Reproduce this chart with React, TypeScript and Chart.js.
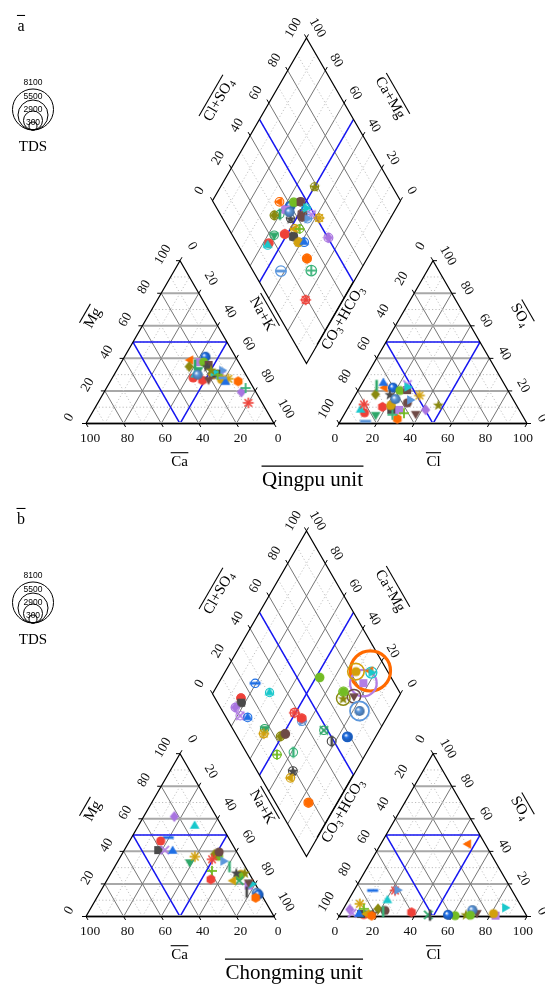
import React, { useEffect, useRef } from "react";
import { Chart, registerables } from "chart.js";

Chart.register(...registerables);

/* ================= DATA (meq %) ================= */
// ---- Qingpu unit (panel a) ----
const qpCa = [25, 16, 27.6, 20.7, 18.6, 16.8, 18, 17.4, 13.1, 11.4, 10.5, 17.7, 24.8, 23.6, 15.4, 29, 27, 14.4, 13.1, 7.7, 6.1, 4.2, 14, 7.3, 15, 21.3, 16.4, 24, 17, 25.6];
const qpMg = [39, 41, 35, 37.7, 37.7, 36, 35, 30, 30, 32.6, 27.5, 30, 26.5, 33, 30.6, 28, 30, 27.1, 25.4, 19.3, 25.9, 21.8, 28, 12.7, 30, 27, 31.6, 36, 33, 30];
const qpCl = [13.3, 17.7, 10.5, 27.7, 22.3, 26, 18.1, 30, 24.4, 30.5, 34.2, 22, 18, 16.8, 23.6, 10.3, 7.3, 22, 11.2, 41.9, 29.6, 25.7, 13.4, 7.4, 31.4, 37.8, 25.1, 8.3, 47.1, 22.5];
const qpSO4 = [22, 22, 17.9, 8.4, 20.3, 20.5, 17.9, 12.7, 24, 14.5, 17.2, 13, 10.2, 5.4, 8.4, 6.6, 8.4, 11, 24.8, 8.4, 2.9, 5.4, 1.4, 11.7, 6.3, 6, 22.4, 23.4, 11.5, 15];
const qpTDS = [450, 450, 400, 450, 450, 450, 300, 450, 300, 450, 300, 400, 450, 400, 450, 400, 350, 450, 450, 500, 500, 900, 900, 300, 300, 450, 400, 350, 300, 450];
const qpMarker = ["triLeft", "sphere", "diamond", "square", "circle", "square", "star5", "circle", "x", "triRight", "asterisk", "triLeft", "hexagon", "triDown", "square", "circle", "triUp", "circle", "triUp", "diamond", "hexagon", "plus", "dash", "asterisk", "plus", "triDown", "triRight", "vline", "star5", "sphere"];
const qpColor = ["orange", "blue", "olive", "lavender", "yellowgreen", "brown", "dark", "brown", "lavender", "lightblue", "gold", "gold", "red", "green", "dark", "red", "cyan", "gold", "blue", "purple", "orange", "teal", "lightblue", "red", "yellowgreen", "brown", "cyan", "green", "olive", "lightblue"];

// ---- Chongming unit (panel b) ----
const cmCa = [2.9, 4, 4.6, 2, 3, 2.1, 1.9, 11, 6.2, 1.5, 32, 14.4, 37.1, 41.2, 22.3, 37.7, 33.8, 28.1, 23.7, 12.5, 9.4, 15.4, 10, 7.5, 7, 19, 8.4, 6.6, 10.7, 4, 22.2];
const cmMg = [20.1, 19, 25.9, 20, 21, 26.9, 14.6, 37, 24.8, 13.5, 48.5, 55.6, 46.4, 40.8, 61.4, 40.8, 40.2, 33.4, 36.8, 38.2, 39.6, 35.1, 34, 22, 15, 28, 30.6, 26.9, 22, 11.5, 22.8];
const cmCl = [46.5, 83, 81.3, 85.6, 72.2, 66.9, 69, 61.5, 69.5, 57.5, 9.9, 20.8, 12.6, 11, 3.6, 6, 9.9, 15, 7.2, 18.4, 22.6, 21.8, 22.9, 47, 48, 10.9, 22, 17, 14, 17.1, 37.3];
const cmSO4 = [44.5, 0.5, 1.8, 5.4, 2.3, 1.2, 3.9, 0.5, 0.8, 1, 16, 9.9, 1.2, 1.5, 4.3, 2, 1.5, 2, 7.8, 4.7, 3.7, 16, 16.2, 1, 0.8, 4.7, 3, 2, 1.6, 0.5, 2.6];
const cmTDS = [7900, 4700, 2300, 1000, 1600, 1600, 2900, 300, 600, 700, 400, 350, 400, 400, 350, 400, 400, 400, 450, 400, 450, 500, 450, 400, 500, 400, 400, 450, 400, 500, 450];
const cmMarker = ["triLeft", "square", "circle", "triRight", "triDown", "star5", "sphere", "circle", "circle", "sphere", "dash", "triUp", "circle", "square", "diamond", "x", "triUp", "triDown", "asterisk", "diamond", "circle", "asterisk", "triRight", "x", "vline", "plus", "vline", "star5", "triLeft", "hexagon", "hexagon"];
const cmColor = ["orange", "lavender", "gold", "cyan", "brown", "olive", "lightblue", "yellowgreen", "yellowgreen", "blue", "blue", "cyan", "red", "dark", "purple", "lavender", "blue", "green", "gold", "olive", "brown", "red", "lightblue", "green", "dark", "yellowgreen", "teal", "dark", "gold", "orange", "red"];

// ---- axis ticks / legend ----
const TICK_VALUES = [0, 20, 40, 60, 80, 100];
const GRID_STEPS = [10, 20, 30, 40, 50, 60, 70, 80, 90];
const TDS_LEGEND = [8100, 5500, 2900, 300];

/* ================= STYLE / LAYOUT ================= */
const SERIF = '"Liberation Serif", "Times New Roman", Times, serif';
const SANS = '"Liberation Sans", Arial, Helvetica, sans-serif';
const PALETTE: Record<string, string> = {
  orange: "#FF6A00",
  red: "#EF4038",
  blue: "#1F6FE5",
  lightblue: "#5C97DC",
  green: "#2EA769",
  teal: "#3BB37A",
  lavender: "#B27EE5",
  purple: "#A874E0",
  olive: "#8A890F",
  brown: "#6E4A46",
  dark: "#4A4A4A",
  cyan: "#19C8CC",
  gold: "#D2A00C",
  yellowgreen: "#73BC24",
};

const W = 545;
const PX_PER_UNIT = 1.88;
const ORIGIN_PX = 86;
const BASE_PX = 423.5;
const H = 86.6025;
const GAP = 34.57;
const OX = 100 + GAP;
const D0X = 100 + GAP / 2;
const D0Y = 31.9;

type P = { x: number; y: number };
const catXY = (ca: number, mg: number): P => ({ x: 100 - ca - mg + mg / 2, y: (mg * H) / 100 });
const anXY = (cl: number, so4: number): P => ({ x: OX + cl + so4 / 2, y: (so4 * H) / 100 });
// a = Cl+SO4 (%), b = Ca+Mg (%)
const diaXY = (a: number, b: number): P => ({ x: D0X + 0.5 * (a - b), y: D0Y + (H / 100) * (a + b) });

const tdsRadius = (t: number) => 3.37 + 0.002115 * t;
const tdsLineWidth = (t: number) => 1 + t / 3600;

function darken(hex: string, f: number) {
  const n = parseInt(hex.slice(1), 16);
  const r = Math.round(((n >> 16) & 255) * f);
  const g = Math.round(((n >> 8) & 255) * f);
  const b = Math.round((n & 255) * f);
  return `rgb(${r},${g},${b})`;
}

function makeMarker(shape: string, color: string): HTMLCanvasElement {
  const N = 16;
  const c = document.createElement("canvas");
  c.width = N;
  c.height = N;
  const g = c.getContext("2d") as CanvasRenderingContext2D;
  const cx = N / 2,
    cy = N / 2;
  g.fillStyle = color;
  g.strokeStyle = color;
  const regular = (n: number, r: number, start: number) => {
    g.beginPath();
    for (let i = 0; i < n; i++) {
      const a = start + (i * 2 * Math.PI) / n;
      const px = cx + r * Math.cos(a),
        py = cy + r * Math.sin(a);
      if (i === 0) g.moveTo(px, py);
      else g.lineTo(px, py);
    }
    g.closePath();
    g.fill();
  };
  const seg = (x1: number, y1: number, x2: number, y2: number) => {
    g.beginPath();
    g.moveTo(cx + x1, cy + y1);
    g.lineTo(cx + x2, cy + y2);
    g.stroke();
  };
  switch (shape) {
    case "circle":
      g.beginPath();
      g.arc(cx, cy, 4.6, 0, Math.PI * 2);
      g.fill();
      break;
    case "square":
      g.fillRect(cx - 4, cy - 4, 8, 8);
      break;
    case "triUp":
      regular(3, 5.6, -Math.PI / 2);
      break;
    case "triDown":
      regular(3, 5.6, Math.PI / 2);
      break;
    case "triLeft":
      regular(3, 5.6, Math.PI);
      break;
    case "triRight":
      regular(3, 5.6, 0);
      break;
    case "diamond":
      g.beginPath();
      g.moveTo(cx, cy - 5.4);
      g.lineTo(cx + 4.6, cy);
      g.lineTo(cx, cy + 5.4);
      g.lineTo(cx - 4.6, cy);
      g.closePath();
      g.fill();
      break;
    case "hexagon":
      regular(6, 5, -Math.PI / 2);
      break;
    case "star5": {
      g.beginPath();
      for (let i = 0; i < 10; i++) {
        const r = i % 2 ? 2.4 : 5.8;
        const a = -Math.PI / 2 + (i * Math.PI) / 5;
        const px = cx + r * Math.cos(a),
          py = cy + 0.6 + r * Math.sin(a);
        if (i === 0) g.moveTo(px, py);
        else g.lineTo(px, py);
      }
      g.closePath();
      g.fill();
      break;
    }
    case "sphere": {
      const grd = g.createRadialGradient(cx - 1.6, cy - 1.8, 0.3, cx, cy, 5.3);
      grd.addColorStop(0, "#ffffff");
      grd.addColorStop(0.35, color);
      grd.addColorStop(1, darken(color, 0.7));
      g.fillStyle = grd;
      g.beginPath();
      g.arc(cx, cy, 5.1, 0, Math.PI * 2);
      g.fill();
      break;
    }
    case "asterisk":
      g.lineWidth = 1.6;
      for (let k = 0; k < 4; k++) {
        const a = (k * Math.PI) / 4;
        seg(-5.3 * Math.cos(a), -5.3 * Math.sin(a), 5.3 * Math.cos(a), 5.3 * Math.sin(a));
      }
      break;
    case "x":
      g.lineWidth = 1.8;
      seg(-4.2, -4.2, 4.2, 4.2);
      seg(-4.2, 4.2, 4.2, -4.2);
      break;
    case "plus":
      g.lineWidth = 1.8;
      seg(-5, 0, 5, 0);
      seg(0, -5, 0, 5);
      break;
    case "dash":
      g.fillRect(cx - 5.5, cy - 1.4, 11, 2.8);
      break;
    case "vline":
      g.fillRect(cx - 1.3, cy - 5.5, 2.6, 11);
      break;
  }
  return c;
}

type Seg = [string, boolean?];
function drawRich(
  ctx: CanvasRenderingContext2D,
  segs: Seg[],
  x: number,
  y: number,
  rot: number,
  size: number,
  overline: boolean,
  family = SERIF,
  olOff = 0.62
) {
  ctx.save();
  ctx.translate(x, y);
  ctx.rotate((rot * Math.PI) / 180);
  ctx.textBaseline = "middle";
  ctx.textAlign = "left";
  ctx.fillStyle = "#000";
  const widths: number[] = [];
  let w = 0;
  for (const [t, sub] of segs) {
    ctx.font = `${sub ? size * 0.66 : size}px ${family}`;
    const mw = ctx.measureText(t).width;
    widths.push(mw);
    w += mw;
  }
  let cx = -w / 2;
  segs.forEach(([t, sub], i) => {
    ctx.font = `${sub ? size * 0.66 : size}px ${family}`;
    ctx.fillText(t, cx, sub ? size * 0.3 : 0);
    cx += widths[i];
  });
  if (overline) {
    ctx.beginPath();
    ctx.strokeStyle = "#000";
    ctx.lineWidth = 1.1;
    ctx.moveTo(-w / 2 - 0.5, -size * olOff);
    ctx.lineTo(w / 2 + 0.5, -size * olOff);
    ctx.stroke();
  }
  ctx.restore();
}

type AxisDef = { pt: (v: number) => P; off: [number, number]; rot: number; dir: [number, number] };
const AXES: AxisDef[] = [
  { pt: (v) => catXY(v, 0), off: [4, 15], rot: 0, dir: [0.5, 0.866] }, // Ca (bottom)
  { pt: (v) => catXY(100 - v, v), off: [-17, -6], rot: -60, dir: [-1, 0] }, // Mg (left)
  { pt: (v) => catXY(0, 100 - v), off: [12, -14.6], rot: 60, dir: [0.5, -0.866] }, // Na+K (right)
  { pt: (v) => anXY(v, 0), off: [-4, 15], rot: 0, dir: [-0.5, 0.866] }, // Cl (bottom)
  { pt: (v) => anXY(0, 100 - v), off: [-12.5, -14.5], rot: -60, dir: [-0.5, -0.866] }, // CO3+HCO3 (left)
  { pt: (v) => anXY(100 - v, v), off: [15, -5], rot: 60, dir: [1, 0] }, // SO4 (right)
  { pt: (v) => diaXY(v, 100), off: [-13, -10], rot: -60, dir: [-0.5, -0.866] }, // Cl+SO4
  { pt: (v) => diaXY(100, v), off: [11, -10], rot: 60, dir: [0.5, -0.866] }, // Ca+Mg
];

const AXIS_TITLES: { segs: Seg[]; x: number; y: number; rot: number }[] = [
  { segs: [["Mg"]], x: 93, y: 318, rot: -60 },
  { segs: [["Ca"]], x: 179.5, y: 462, rot: 0 },
  { segs: [["Na+K"]], x: 262, y: 314, rot: 60 },
  { segs: [["CO"], ["3", true], ["+HCO"], ["3", true]], x: 343, y: 318, rot: -60 },
  { segs: [["Cl"]], x: 433.5, y: 462, rot: 0 },
  { segs: [["SO"], ["4", true]], x: 520, y: 315, rot: 60 },
  { segs: [["Cl+SO"], ["4", true]], x: 219, y: 100, rot: -60 },
  { segs: [["Ca+Mg"]], x: 390, y: 98, rot: 60 },
];

type PanelProps = {
  height: number;
  letter: string;
  title: string;
  titleX: number;
  ca: number[];
  mg: number[];
  cl: number[];
  so4: number[];
  tds: number[];
  marker: string[];
  color: string[];
};

function makeFramePlugin(p: PanelProps) {
  return {
    id: "piperFrame",
    beforeDatasetsDraw(chart: any) {
      const ctx = chart.ctx as CanvasRenderingContext2D;
      const xs = chart.scales.x,
        ys = chart.scales.y;
      const toPx = (q: P): [number, number] => [xs.getPixelForValue(q.x), ys.getPixelForValue(q.y)];
      const line = (a: P, b: P, color: string, w: number, dash: number[] = []) => {
        const [x1, y1] = toPx(a),
          [x2, y2] = toPx(b);
        ctx.beginPath();
        ctx.setLineDash(dash);
        ctx.strokeStyle = color;
        ctx.lineWidth = w;
        ctx.moveTo(x1, y1);
        ctx.lineTo(x2, y2);
        ctx.stroke();
        ctx.setLineDash([]);
      };
      const poly = (pts: P[], color: string, w: number) => {
        ctx.beginPath();
        ctx.strokeStyle = color;
        ctx.lineWidth = w;
        ctx.lineJoin = "miter";
        pts.forEach((q, i) => {
          const [x, y] = toPx(q);
          if (i === 0) ctx.moveTo(x, y);
          else ctx.lineTo(x, y);
        });
        ctx.closePath();
        ctx.stroke();
      };

      ctx.save();
      ctx.fillStyle = "#fff";
      ctx.fillRect(0, 0, chart.width, chart.height);

      // grid
      for (const k of GRID_STEPS) {
        const major = k % 20 === 0;
        const dash = major ? [] : [1.2, 2.2];
        const hCol = major ? "#a8a8a8" : "#bdbdbd";
        const hW = major ? 2 : 1;
        const dCol = major ? "#757575" : "#c4c4c4";
        // cation triangle
        line(catXY(100 - k, k), catXY(0, k), hCol, hW, dash);
        line(catXY(100 - k, 0), catXY(0, 100 - k), dCol, 1, dash);
        line(catXY(k, 0), catXY(k, 100 - k), dCol, 1, dash);
        // anion triangle
        line(anXY(0, k), anXY(100 - k, k), hCol, hW, dash);
        line(anXY(k, 0), anXY(k, 100 - k), dCol, 1, dash);
        line(anXY(100 - k, 0), anXY(0, 100 - k), dCol, 1, dash);
        // diamond
        line(diaXY(k, 0), diaXY(k, 100), dCol, 1, dash);
        line(diaXY(0, k), diaXY(100, k), dCol, 1, dash);
      }

      // blue facies lines
      const blue = "#1515F2";
      line(catXY(50, 50), catXY(0, 50), blue, 1.5);
      line(catXY(50, 0), catXY(50, 50), blue, 1.5);
      line(catXY(50, 0), catXY(0, 50), blue, 1.5);
      line(anXY(0, 50), anXY(50, 50), blue, 1.5);
      line(anXY(50, 0), anXY(0, 50), blue, 1.5);
      line(anXY(50, 0), anXY(50, 50), blue, 1.5);
      line(diaXY(50, 0), diaXY(50, 100), blue, 1.5);
      line(diaXY(0, 50), diaXY(100, 50), blue, 1.5);

      // frames
      line(catXY(100, 0), catXY(0, 0), "#9a9a9a", 3);
      line(anXY(0, 0), anXY(100, 0), "#9a9a9a", 3);
      poly([catXY(100, 0), catXY(0, 0), catXY(0, 100)], "#000", 1.2);
      poly([anXY(0, 0), anXY(100, 0), anXY(0, 100)], "#000", 1.2);
      poly([diaXY(0, 0), diaXY(100, 0), diaXY(100, 100), diaXY(0, 100)], "#000", 1.2);

      // ticks and tick labels
      ctx.fillStyle = "#111";
      for (const ax of AXES) {
        for (const v of TICK_VALUES) {
          const [x, y] = toPx(ax.pt(v));
          ctx.beginPath();
          ctx.strokeStyle = "#000";
          ctx.lineWidth = 1;
          ctx.moveTo(x, y);
          ctx.lineTo(x + ax.dir[0] * 4, y + ax.dir[1] * 4);
          ctx.stroke();
          ctx.save();
          ctx.translate(x + ax.off[0], y + ax.off[1]);
          ctx.rotate((ax.rot * Math.PI) / 180);
          ctx.font = `13.5px ${SERIF}`;
          ctx.textAlign = "center";
          ctx.textBaseline = "middle";
          ctx.fillStyle = "#111";
          ctx.fillText(String(v), 0, 0);
          ctx.restore();
        }
      }

      // axis titles
      for (const t of AXIS_TITLES) drawRich(ctx, t.segs, t.x, t.y, t.rot, 15, true);

      // panel letter and unit title
      drawRich(ctx, [[p.letter]], 21, 27, 0, 16, true, SERIF, 0.72);
      drawRich(ctx, [[p.title]], p.titleX, 480, 0, 21, true, SERIF, 0.66);

      // TDS legend
      const lx = 33,
        lb = 130;
      ctx.strokeStyle = "#000";
      ctx.lineWidth = 1;
      for (const t of TDS_LEGEND) {
        const r = tdsRadius(t);
        ctx.beginPath();
        ctx.arc(lx, lb - r, r, 0, Math.PI * 2);
        ctx.stroke();
      }
      ctx.font = `8.5px ${SANS}`;
      ctx.textAlign = "center";
      ctx.textBaseline = "middle";
      ctx.fillStyle = "#000";
      TDS_LEGEND.forEach((t, i) => ctx.fillText(String(t), lx, 83 + i * 13.3));
      ctx.font = `15px ${SERIF}`;
      ctx.fillText("TDS", lx, 147);

      ctx.restore();
    },
  };
}

function PiperPanel(p: PanelProps) {
  const ref = useRef<HTMLCanvasElement>(null);
  useEffect(() => {
    const canvas = ref.current;
    if (!canvas) return;
    const colors = p.color.map((c) => PALETTE[c]);
    const imgs = p.marker.map((m, i) => makeMarker(m, colors[i]));
    const cation = p.ca.map((c, i) => catXY(c, p.mg[i]));
    const anion = p.cl.map((c, i) => anXY(c, p.so4[i]));
    const diamond = p.ca.map((c, i) => diaXY(p.cl[i] + p.so4[i], c + p.mg[i]));

    const xMin = -ORIGIN_PX / PX_PER_UNIT;
    const xMax = xMin + W / PX_PER_UNIT;
    const yMax = BASE_PX / PX_PER_UNIT;
    const yMin = yMax - p.height / PX_PER_UNIT;

    const chart = new Chart(canvas, {
      type: "scatter",
      data: {
        datasets: [
          { label: "diamond", data: diamond, pointStyle: imgs as any, pointRadius: 5 },
          { label: "cations", data: cation, pointStyle: imgs as any, pointRadius: 5 },
          { label: "anions", data: anion, pointStyle: imgs as any, pointRadius: 5 },
          {
            label: "TDS",
            data: diamond,
            pointStyle: "circle",
            pointRadius: p.tds.map(tdsRadius),
            pointBackgroundColor: "rgba(0,0,0,0)",
            pointBorderColor: colors,
            pointBorderWidth: p.tds.map(tdsLineWidth),
          },
        ],
      },
      options: {
        responsive: false,
        maintainAspectRatio: false,
        animation: false,
        events: [],
        layout: { padding: 0, autoPadding: false },
        plugins: { legend: { display: false }, tooltip: { enabled: false } },
        scales: {
          x: { type: "linear", display: false, min: xMin, max: xMax },
          y: { type: "linear", display: false, min: yMin, max: yMax },
        },
      } as any,
      plugins: [makeFramePlugin(p)],
    });
    return () => chart.destroy();
  }, []);
  return <canvas ref={ref} width={W} height={p.height} style={{ display: "block", width: W, height: p.height }} />;
}

export default function App() {
  return (
    <div style={{ position: "absolute", left: 0, top: 0, width: W, height: 985, background: "#fff", overflow: "hidden" }}>
      <PiperPanel
        height={493}
        letter="a"
        title="Qingpu unit"
        titleX={312.5}
        ca={qpCa}
        mg={qpMg}
        cl={qpCl}
        so4={qpSO4}
        tds={qpTDS}
        marker={qpMarker}
        color={qpColor}
      />
      <PiperPanel
        height={492}
        letter="b"
        title="Chongming unit"
        titleX={294}
        ca={cmCa}
        mg={cmMg}
        cl={cmCl}
        so4={cmSO4}
        tds={cmTDS}
        marker={cmMarker}
        color={cmColor}
      />
    </div>
  );
}
